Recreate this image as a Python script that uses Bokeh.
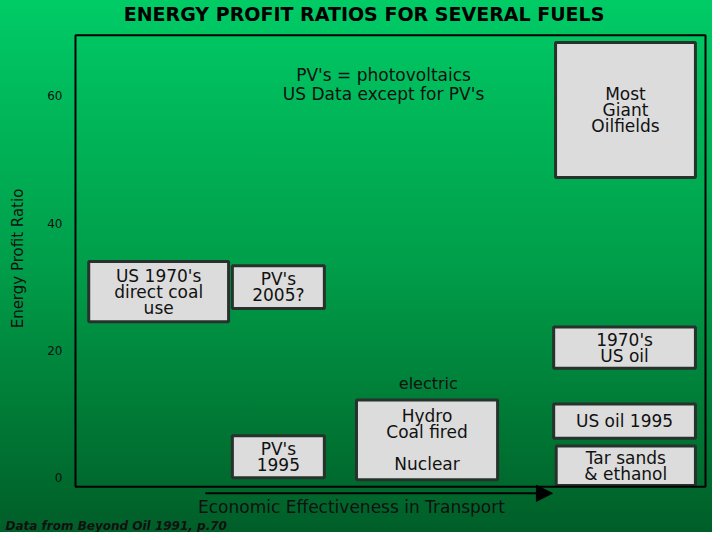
from bokeh.plotting import figure
from bokeh.models import (ColumnDataSource, Label, Arrow, NormalHead, FixedTicker,
                          BoxAnnotation, Title)
from bokeh.core.properties import value
from bokeh.embed import file_html
from bokeh.resources import INLINE

# ---- data ----
fuels = ["US 1970's\ndirect coal\nuse", "PV's\n2005?", "PV's\n1995",
         "Hydro\nCoal fired\n\nNuclear", "Most\nGiant\nOilfields",
         "1970's\nUS oil", "US oil 1995", "Tar sands\n& ethanol"]
epr_low = [24.5, 26.6, 0.0, -0.3, 47.2, 17.2, 6.2, -1.2]
epr_high = [34.0, 33.3, 6.6, 12.2, 68.4, 23.7, 11.6, 5.0]
effect_left = [2.1, 24.9, 24.9, 44.6, 76.2, 75.9, 75.9, 76.3]
effect_right = [24.3, 39.5, 39.5, 67.0, 98.4, 98.4, 98.4, 98.4]
y_ticks = [0, 20, 40, 60]

src = ColumnDataSource(dict(
    name=fuels, low=epr_low, high=epr_high, left=effect_left, right=effect_right,
    xc=[(a + b) / 2 for a, b in zip(effect_left, effect_right)],
    yc=[(a + b) / 2 for a, b in zip(epr_low, epr_high)],
))

FONT = "DejaVu Sans"
DARK = "#111111"

p = figure(width=712, height=532, output_backend="svg", toolbar_location=None,
           x_range=(-0.317, 101.11), y_range=(-6.09, 75.0),
           min_border_left=73, min_border_right=0, min_border_top=0, min_border_bottom=0)
p.styles = {"background": "linear-gradient(to bottom, #00cc66 0%, #00b85a 20%, #009e4a 50%, #007a36 78%, #005e28 100%)"}
p.border_fill_color = None
p.background_fill_color = None
p.outline_line_color = None
p.grid.visible = False
p.xaxis.visible = False

ya = p.yaxis[0]
ya.ticker = FixedTicker(ticks=y_ticks)
ya.major_tick_line_color = None
ya.minor_tick_line_color = None
ya.axis_line_color = None
ya.major_label_text_font = FONT
ya.major_label_text_font_size = "12px"
ya.major_label_text_color = DARK
ya.major_label_standoff = 5
ya.axis_label = "Energy Profit Ratio"
ya.axis_label_text_font = FONT
ya.axis_label_text_font_style = "normal"
ya.axis_label_text_font_size = "15px"
ya.axis_label_text_color = DARK
ya.axis_label_standoff = 17

# visible chart frame
p.add_layout(BoxAnnotation(left=0, right=100, bottom=-1.41, top=69.53,
                           fill_alpha=0, line_color="black", line_width=2, line_alpha=1))

p.quad(left="left", right="right", bottom="low", top="high", source=src,
       fill_color="#dcdcdc", line_color="#26322b", line_width=3)
p.text(x="xc", y="yc", text="name", source=src, text_align="center",
       text_baseline="middle", text_font=value(FONT), text_font_size="17px",
       text_line_height=0.8, text_color=DARK)

p.add_layout(Label(x=45.8, y=72.9, text="ENERGY PROFIT RATIOS FOR SEVERAL FUELS",
                   text_align="center", text_baseline="middle", text_font=FONT,
                   text_font_size="19px", text_font_style="bold", text_color="black"))
p.add_layout(Label(x=48.9, y=61.8, text="PV's = photovoltaics\nUS Data except for PV's",
                   text_align="center", text_baseline="middle", text_font=FONT,
                   text_font_size="17px", text_line_height=0.97, text_color=DARK))
p.add_layout(Label(x=56.0, y=14.8, text="electric", text_align="center",
                   text_baseline="middle", text_font=FONT, text_font_size="16px",
                   text_color=DARK))
p.add_layout(Arrow(end=NormalHead(size=16, fill_color="black", line_color="black"),
                   x_start=20.6, x_end=75.7, y_start=-2.45, y_end=-2.45,
                   line_color="black", line_width=2))
p.add_layout(Label(x=43.8, y=-4.55, text="Economic Effectiveness in Transport",
                   text_align="center", text_baseline="alphabetic", text_font=FONT,
                   text_font_size="17px", text_color=DARK))
p.add_layout(Title(text="Data from Beyond Oil 1991, p.70", align="left", offset=-68,
                   standoff=0, text_font=FONT, text_font_size="12px",
                   text_font_style="bold italic", text_color=DARK), "below")

open("out.html", "w").write(file_html(p, INLINE))
